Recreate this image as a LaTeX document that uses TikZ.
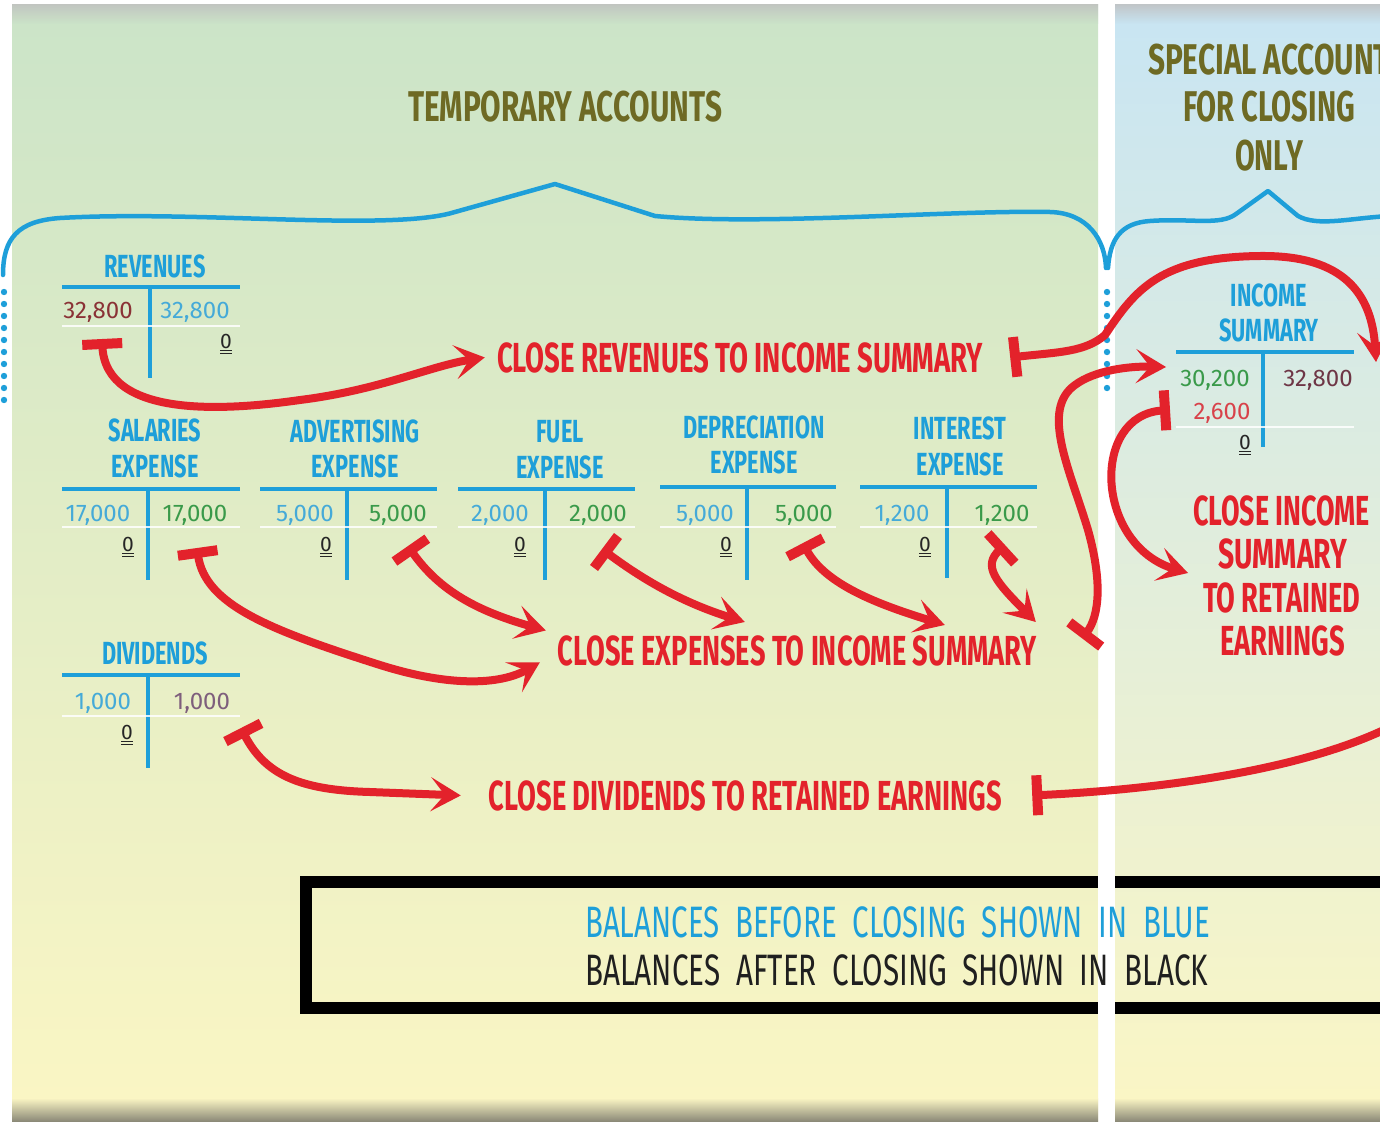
\documentclass[tikz,border=0pt]{standalone}
\usepackage{fontspec}
\setmainfont{Fira Sans}
\newfontfamily\headf[FakeStretch=0.68]{Fira Sans}
\usetikzlibrary{arrows.meta,calc}

\definecolor{tblue}{HTML}{1E9FD9}
\definecolor{olivetxt}{HTML}{6E6A24}
\definecolor{cred}{HTML}{E3222B}
\definecolor{nblue}{HTML}{45AAD8}
\definecolor{ngreen}{HTML}{3A9A4A}
\definecolor{nbrown}{HTML}{8A3236}
\definecolor{npurp}{HTML}{7E5E7C}
\definecolor{nred}{HTML}{D8424A}
\definecolor{ndark}{HTML}{6E3646}
\definecolor{bggreen}{HTML}{CBE4C8}
\definecolor{bgmid}{HTML}{E6EFC9}
\definecolor{bgyellow}{HTML}{FBF6C4}
\definecolor{bgblue}{HTML}{C8E5F3}
\definecolor{bgbluemid}{HTML}{E2EFE0}
\definecolor{shadowgray}{HTML}{8C8A78}

% stretch a text to a given width, keeping its height
\newcommand\fitto[2]{\resizebox{#1}{\height}{#2}}
% a closed-out balance: zero with a double rule below
\newcommand\nil{\setbox0\hbox{0}\vtop{\copy0\kern1.6pt\hrule width\wd0 height1.3pt\kern1.4pt\hrule width\wd0 height1.3pt}}

\begin{document}
\begin{tikzpicture}[x=1pt,y=-1pt,
  acct/.style={font=\headf\bfseries\fontsize{32}{34}\selectfont, text=tblue, anchor=base, inner sep=0pt},
  ttl/.style={font=\headf\bfseries\fontsize{43}{45}\selectfont, text=olivetxt, anchor=base, inner sep=0pt},
  num/.style={font=\fontsize{24}{26}\selectfont, anchor=base, inner sep=0pt},
  zero/.style={font=\fontsize{21}{23}\selectfont, anchor=base, inner sep=0pt, text=black!85},
  tline/.style={draw=tblue, line width=4pt},
  wline/.style={draw=white, line width=2.5pt, opacity=.85},
  closelbl/.style={font=\headf\bfseries\fontsize{42}{44}\selectfont, text=cred, anchor=base, inner sep=0pt},
  keytxt/.style={font=\headf\fontsize{44}{46}\selectfont, anchor=base west, inner sep=0pt},
  bracel/.style={draw=tblue, line width=4.5pt, line cap=round, line join=round},
  closer/.style={draw=cred, line width=8pt,
    {Bar[width=40pt,line width=10pt]}-{Stealth[length=30pt,width=34pt,inset=14pt]}},
  closebar/.style={draw=cred, line width=8pt, {Bar[width=40pt,line width=10pt]}-},
]
\useasboundingbox (0,0) rectangle (1380,1121);
\clip (0,0) rectangle (1380,1121);

% panels
\fill[white] (0,0) rectangle (1380,1121);
\shade[top color=bggreen, middle color=bgmid, bottom color=bgyellow] (12,5) rectangle (1098,1121);
\shade[top color=bgblue, middle color=bgbluemid, bottom color=bgyellow] (1115,5) rectangle (1380,1121);
\shade[top color=black!25, bottom color=bggreen, opacity=.8] (12,5) rectangle (1098,24);
\shade[top color=black!25, bottom color=bgblue, opacity=.8] (1115,5) rectangle (1380,24);
\shade[top color=bgyellow, bottom color=shadowgray] (12,1098) rectangle (1098,1121);
\shade[top color=bgyellow, bottom color=shadowgray] (1115,1098) rectangle (1380,1121);

% key box
\draw[line width=12pt] (306,882) rectangle (1400,1008);
\fill[white] (1098,870) rectangle (1115,1020);

% headings and braces
\node[ttl] (ttemp) at (565,122) {\fitto{314pt}{TEMPORARY ACCOUNTS}};
\node[ttl] (tsp1) at (1269,75) {\fitto{242pt}{SPECIAL ACCOUNT}};
\node[ttl] (tsp2) at (1269,122) {\fitto{172pt}{FOR CLOSING}};
\node[ttl] (tsp3) at (1269,170) {\fitto{68pt}{ONLY}};

\draw[bracel] (3,275) .. controls (3,238) and (18,221) .. (60,218)
  .. controls (200,210) and (390,232) .. (455,212) -- (555,184) -- (655,216)
  .. controls (760,226) and (950,210) .. (1050,212)
  .. controls (1088,213) and (1105,240) .. (1106,268);
\draw[bracel] (1108,268) .. controls (1110,240) and (1120,223) .. (1150,221)
  .. controls (1190,218) and (1220,226) .. (1236,214) -- (1268,191) -- (1298,216)
  .. controls (1318,227) and (1350,218) .. (1390,216);
\foreach \y in {292,304,...,400} \fill[tblue] (4,\y) circle (3.2pt);
\foreach \y in {292,304,...,388} \fill[tblue] (1107,\y) circle (3.2pt);

% T-accounts
\node[acct] (trev) at (155,277) {REVENUES};
\draw[tline] (62,287) -- (240,287); \draw[tline] (150,287) -- (150,378);
\draw[wline] (62,326) -- (240,326);
\node[num, text=nbrown] (rev1) at (98,318) {32,800};
\node[num, text=nblue] (rev2) at (195,318) {32,800};
\node[zero] (rev0) at (226,348) {\nil};

\node[acct] (tsal1) at (155,441) {SALARIES};
\node[acct] (tsal2) at (155,477) {EXPENSE};
\draw[tline] (62,489) -- (240,489); \draw[tline] (148,489) -- (148,580);
\draw[wline] (62,527) -- (240,527);
\node[num, text=nblue] (sal1) at (98,521) {17,000};
\node[num, text=ngreen] (sal2) at (195,521) {17,000};
\node[zero] (sal0) at (128,551) {\nil};

\node[acct] (tadv1) at (355,442) {ADVERTISING};
\node[acct] (tadv2) at (355,477) {EXPENSE};
\draw[tline] (260,489) -- (437,489); \draw[tline] (347,489) -- (347,580);
\draw[wline] (260,527) -- (437,527);
\node[num, text=nblue] (adv1) at (305,521) {5,000};
\node[num, text=ngreen] (adv2) at (398,521) {5,000};
\node[zero] (adv0) at (326,551) {\nil};

\node[acct] (tfuel1) at (560,442) {FUEL};
\node[acct] (tfuel2) at (560,478) {EXPENSE};
\draw[tline] (458,489) -- (635,489); \draw[tline] (545,489) -- (545,580);
\draw[wline] (458,527) -- (635,527);
\node[num, text=nblue] (fuel1) at (500,521) {2,000};
\node[num, text=ngreen] (fuel2) at (598,521) {2,000};
\node[zero] (fuel0) at (520,551) {\nil};

\node[acct] (tdep1) at (754,438) {DEPRECIATION};
\node[acct] (tdep2) at (754,473) {EXPENSE};
\draw[tline] (660,487) -- (836,487); \draw[tline] (747,487) -- (747,580);
\draw[wline] (660,527) -- (836,527);
\node[num, text=nblue] (dep1) at (705,521) {5,000};
\node[num, text=ngreen] (dep2) at (804,521) {5,000};
\node[zero] (dep0) at (726,551) {\nil};

\node[acct] (tint1) at (960,439) {INTEREST};
\node[acct] (tint2) at (960,475) {EXPENSE};
\draw[tline] (860,487) -- (1037,487); \draw[tline] (947,487) -- (947,578);
\draw[wline] (860,527) -- (1037,527);
\node[num, text=nblue] (int1) at (902,521) {1,200};
\node[num, text=ngreen] (int2) at (1002,521) {1,200};
\node[zero] (int0) at (925,551) {\nil};

\node[acct] (tdiv) at (155,664) {DIVIDENDS};
\draw[tline] (62,675) -- (240,675); \draw[tline] (148,675) -- (148,768);
\draw[wline] (62,716) -- (240,716);
\node[num, text=nblue] (div1) at (103,709) {1,000};
\node[num, text=npurp] (div2) at (202,709) {1,000};
\node[zero] (div0) at (127,739) {\nil};

\node[acct] (tis1) at (1269,306) {INCOME};
\node[acct] (tis2) at (1269,341) {SUMMARY};
\draw[tline] (1176,352) -- (1354,352); \draw[tline] (1263,352) -- (1263,447);
\draw[wline] (1176,427) -- (1354,427);
\node[num, text=ngreen] (is1) at (1215,386) {30,200};
\node[num, text=nred] (is2) at (1222,419) {2,600};
\node[num, text=ndark] (is3) at (1318,386) {32,800};
\node[zero] (is0) at (1245,449) {\nil};

% closing-entry labels
\node[closelbl] (lrev) at (740,372) {\fitto{486pt}{CLOSE REVENUES TO INCOME SUMMARY}};
\node[closelbl] (lexp) at (797.5,665) {\fitto{479pt}{CLOSE EXPENSES TO INCOME SUMMARY}};
\node[closelbl] (ldiv) at (745.5,810) {\fitto{513pt}{CLOSE DIVIDENDS TO RETAINED EARNINGS}};
\node[closelbl] (lci1) at (1281.5,525) {\fitto{177pt}{CLOSE INCOME}};
\node[closelbl] (lci2) at (1282.5,568) {\fitto{129pt}{SUMMARY}};
\node[closelbl] (lci3) at (1281.5,612) {\fitto{157pt}{TO RETAINED}};
\node[closelbl] (lci4) at (1282.5,655) {\fitto{125pt}{EARNINGS}};

% key text
\node[keytxt, text=tblue] (key1) at (585,937) {\fitto{625pt}{BALANCES\ \ BEFORE\ \ CLOSING\ \ SHOWN\ \ IN\ \ BLUE}};
\node[keytxt, text=black!88] (key2) at (585,985) {\fitto{623pt}{BALANCES\ \ AFTER\ \ CLOSING\ \ SHOWN\ \ IN\ \ BLACK}};

% connector end points
\coordinate (revbar) at (102,339);
\coordinate (salbar) at (197,548);
\coordinate (advbar) at (408,546);
\coordinate (fuelbar) at (602,549);
\coordinate (depbar) at (803,543);
\coordinate (intbar) at (1005,545);
\coordinate (divbar) at (241,728);
\coordinate (isbar) at (1170,410);
\coordinate (iscredit) at (1376,362);
\coordinate (isdebit) at (1166,367);
\coordinate (ciarr) at (1188,573);
\coordinate (reright) at (1392,726);
\coordinate (tfuel) at ($(lexp.north west)+(187,-13)$);
\coordinate (tdep) at ($(lexp.north west)+(387,-10)$);
\coordinate (tint) at ($(lexp.north west)+(478,-13)$);

% closing entries
\draw[closer] (revbar) .. controls (106,420) and (230,410) .. (300,400)
  .. controls (380,390) and (430,366) .. ($(lrev.west)+(-12,0)$);
\draw[closer] ($(lrev.east)+(27,0)$) .. controls (1060,352) and (1085,352) .. (1105,335)
  .. controls (1135,290) and (1160,257) .. (1260,256)
  .. controls (1345,255) and (1372,295) .. (iscredit);
\draw[closer] (salbar) .. controls (205,605) and (270,630) .. (380,665)
  .. controls (450,687) and (500,685) .. ($(lexp.west)+(-18,12)$);
\draw[closer] (advbar) .. controls (440,592) and (480,612) .. ($(lexp.west)+(-12,-20)$);
\draw[closer] (fuelbar) .. controls (650,585) and (690,605) .. (tfuel);
\draw[closer] (depbar) .. controls (825,585) and (880,605) .. (tdep);
\draw[closer] (intbar) .. controls (982,566) and (996,582) .. (tint);
\draw[closer] ($(lexp.east)+(45,-12)$) .. controls (1100,615) and (1102,580) .. (1088,530)
  .. controls (1070,470) and (1040,410) .. (1075,385)
  .. controls (1095,370) and (1130,366) .. (isdebit);
\draw[closer] (isbar) .. controls (1090,415) and (1095,545) .. (ciarr);
\draw[closer] (divbar) .. controls (265,775) and (300,790) .. (370,792)
  -- ($(ldiv.west)+(-28,0)$);
\draw[closebar] ($(ldiv.east)+(30,0)$) .. controls (1150,790) and (1300,772) .. (reright);
\end{tikzpicture}
\end{document}
